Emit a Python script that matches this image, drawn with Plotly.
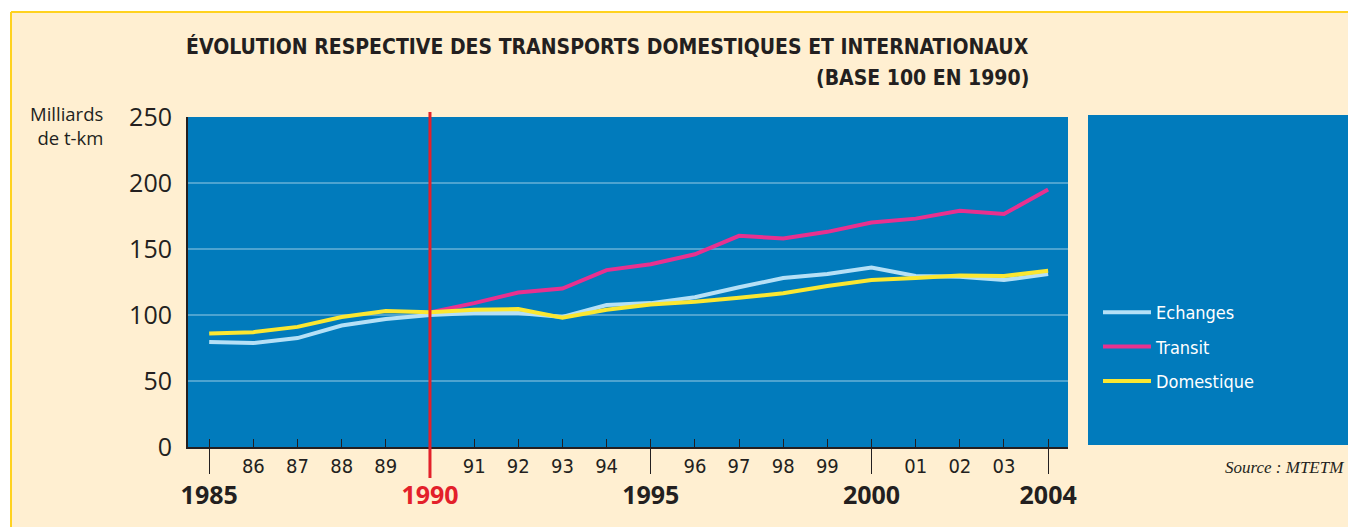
import plotly.graph_objects as go

# ---------------- data ----------------
years = list(range(1985, 2005))
echanges = [79.5, 78.8, 82.5, 92, 97, 100, 101.5, 101.5, 98.5, 107.5,
            109, 113.5, 121, 128, 131, 136, 129.5, 129, 126.5, 131]
transit_years = list(range(1990, 2005))
transit = [102, 109, 117, 120, 134, 138.5, 146, 160, 158, 163,
           170, 173, 179, 176.5, 195]
domestique = [86, 87, 91, 98.5, 103, 102, 104, 104.5, 98, 104,
              108, 110, 113, 116.5, 122, 126.5, 128, 130, 129.5, 133.5]

major_years = [1985, 1990, 1995, 2000, 2004]
major_labels = ["<b>1985</b>", "<b><span style='color:#E3202A'>1990</span></b>",
                "<b>1995</b>", "<b>2000</b>", "<b>2004</b>"]
minor_labels = ["" if y in major_years else f"{y % 100:02d}" for y in years]
y_ticks = [0, 50, 100, 150, 200, 250]

# ---------------- style ----------------
W, H = 1348, 527
L, R, T, B = 188, 1068, 117, 447
BEIGE = "#FFEFD1"
BLUE = "#017BBC"
DARK = "#231F20"
C_ECH = "#B5E0F6"
C_TRA = "#E8318F"
C_DOM = "#FBE731"
RED = "#E3202A"
COND = "DejaVu Sans Condensed"


def fx(px):
    return (px - L) / (R - L)


def fy(py):
    return (B - py) / (B - T)


fig = go.Figure()
fig.add_trace(go.Scatter(x=years, y=echanges, name="Echanges", mode="lines",
                         line=dict(color=C_ECH, width=4), legendgroup="a"))
fig.add_trace(go.Scatter(x=transit_years, y=transit, name="Transit", mode="lines",
                         line=dict(color=C_TRA, width=4), legendgroup="b"))
fig.add_trace(go.Scatter(x=years, y=domestique, name="Domestique", mode="lines",
                         line=dict(color=C_DOM, width=4), legendgroup="c"))
# invisible trace to host the secondary (major) x axis
fig.add_trace(go.Scatter(x=[years[0]], y=[None], xaxis="x2", showlegend=False,
                         hoverinfo="skip"))

xr = [1984.52, 2004.45]
shapes = [
    # white margins and gold frame of the beige panel
    dict(type="rect", xref="paper", yref="paper", x0=fx(0), x1=fx(W), y0=fy(12), y1=fy(0),
         fillcolor="white", line_width=0, layer="below"),
    dict(type="rect", xref="paper", yref="paper", x0=fx(0), x1=fx(11), y0=fy(H), y1=fy(0),
         fillcolor="white", line_width=0, layer="below"),
    dict(type="line", xref="paper", yref="paper", x0=fx(11), x1=fx(W), y0=fy(12), y1=fy(12),
         line=dict(color="#FFD21F", width=2)),
    dict(type="line", xref="paper", yref="paper", x0=fx(11), x1=fx(11), y0=fy(12), y1=fy(H),
         line=dict(color="#FFD21F", width=2)),
    # legend panel
    dict(type="rect", xref="paper", yref="paper", x0=fx(1088), x1=fx(W + 2), y0=fy(445), y1=fy(115),
         fillcolor=BLUE, line_width=0, layer="below"),
    # 1990 reference line
    dict(type="line", xref="x", yref="paper", x0=1990, x1=1990, y0=fy(478), y1=fy(112),
         line=dict(color=RED, width=3), layer="above"),
]

annotations = [
    dict(text="<b>ÉVOLUTION RESPECTIVE DES TRANSPORTS DOMESTIQUES ET INTERNATIONAUX</b>",
         xref="paper", yref="paper", x=fx(1031), y=fy(46), xanchor="right", yanchor="middle",
         showarrow=False, font=dict(family=COND, size=21, color=DARK)),
    dict(text="<b>(BASE 100 EN 1990)</b>",
         xref="paper", yref="paper", x=fx(1031), y=fy(78), xanchor="right", yanchor="middle",
         showarrow=False, font=dict(family=COND, size=21, color=DARK)),
    dict(text="Milliards<br>de t-km", xref="paper", yref="paper", x=fx(105), y=fy(125),
         xanchor="right", yanchor="middle", align="right", showarrow=False,
         font=dict(family="Open Sans", size=18.5, color=DARK)),
    dict(text="<i>Source : MTETM</i>", xref="paper", yref="paper", x=fx(1346), y=fy(467),
         xanchor="right", yanchor="middle", showarrow=False,
         font=dict(family="Liberation Serif", size=17, color=DARK)),
]

fig.update_layout(
    width=W, height=H,
    margin=dict(l=L, r=W - R, t=T, b=H - B, pad=0),
    paper_bgcolor=BEIGE, plot_bgcolor=BLUE,
    showlegend=True,
    legend=dict(x=fx(1098), y=fy(294), xanchor="left", yanchor="top",
                bgcolor="rgba(0,0,0,0)", borderwidth=0, tracegroupgap=8,
                traceorder="grouped", itemwidth=48,
                font=dict(family=COND, size=18, color="white")),
    xaxis=dict(range=xr, tickmode="array", tickvals=years, ticktext=minor_labels,
               ticks="inside", ticklen=8, tickwidth=1.2, tickcolor=DARK,
               showline=True, linecolor=DARK, linewidth=2, showgrid=False, zeroline=False,
               ticklabelstandoff=0,
               tickfont=dict(family=COND, size=20, color=DARK)),
    xaxis2=dict(range=xr, overlaying="x", anchor="y", side="bottom", matches="x",
                tickmode="array", tickvals=major_years, ticktext=major_labels,
                ticks="outside", ticklen=26, tickwidth=1.2, tickcolor=DARK,
                showline=False, showgrid=False, zeroline=False, ticklabelstandoff=0,
                tickfont=dict(family="Open Sans", size=25, color=DARK)),
    yaxis=dict(range=[0, 250], tickmode="array", tickvals=y_ticks,
               showgrid=True, gridcolor="rgba(255,255,255,0.3)", gridwidth=1.5,
               showline=True, linecolor=DARK, linewidth=2, zeroline=False,
               ticks="", ticklabelstandoff=9,
               tickfont=dict(family="Open Sans", size=25, color=DARK)),
    shapes=shapes, annotations=annotations,
    hovermode=False,
)

fig.write_html("out.html", config={"displayModeBar": False},
               post_script="document.body.style.margin='0';")
